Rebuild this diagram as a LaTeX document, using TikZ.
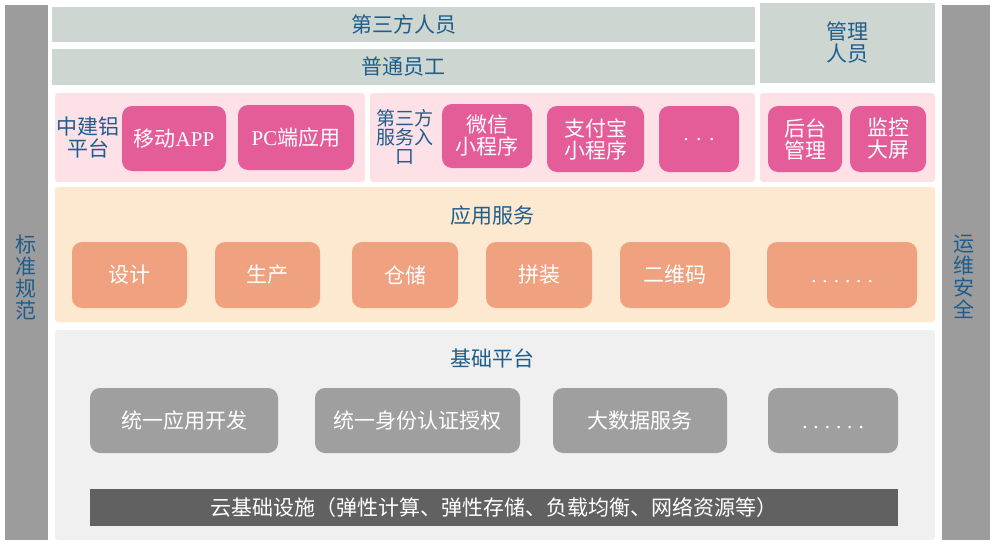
\documentclass[tikz,border=0pt]{standalone}
\usepackage{fontspec}
\setmainfont{Liberation Serif}
\newfontfamily\cjk{Noto Sans CJK SC}
\definecolor{sidegray}{HTML}{9C9C9C}
\definecolor{rowgray}{HTML}{CDD6D0}
\definecolor{pinkbg}{HTML}{FDE1E7}
\definecolor{pinkbox}{HTML}{E45D98}
\definecolor{orangebg}{HTML}{FDE9D0}
\definecolor{orangebox}{HTML}{F0A17F}
\definecolor{graybg}{HTML}{F0F0F0}
\definecolor{graybox}{HTML}{9F9F9F}
\definecolor{darkbar}{HTML}{616161}
\definecolor{titleblue}{HTML}{1E5D8C}
\newcommand\moredots{\vphantom{设}{\rmfamily .\hspace{6pt}.\hspace{6pt}.\hspace{6pt}.\hspace{6pt}.\hspace{6pt}.}}
\begin{document}
\begin{tikzpicture}[x=1pt,y=-1pt,
    panel/.style={rounded corners=3pt, inner sep=0pt},
    usergroup/.style={fill=rowgray, inner sep=0pt, text=titleblue,
        font=\cjk\fontsize{21}{22}\selectfont, align=center},
    appbox/.style={rounded corners=10pt, inner sep=0pt, text=white,
        font=\cjk\fontsize{21}{22}\selectfont, align=center},
    title/.style={text=titleblue, font=\cjk\fontsize{21}{22}\selectfont, align=center}]
    \useasboundingbox[fill=white] (0,0) rectangle (992,543);
    % side columns
    \node[fill=sidegray, minimum width=43pt, minimum height=535pt, inner sep=0pt] (spec) at (26.5,272.5) {};
    \node[title] (specText) at (26,277) {标\\准\\规\\范};
    \node[fill=sidegray, minimum width=48pt, minimum height=535pt, inner sep=0pt] (ops) at (966,272.5) {};
    \node[title] (opsText) at (964,277) {运\\维\\安\\全};
    % users
    \node[usergroup, minimum width=703pt, minimum height=35pt] (third) at (403.5,24.5) {第三方人员};
    \node[usergroup, minimum width=703pt, minimum height=36pt] (staff) at (403.5,67) {普通员工};
    \node[usergroup, minimum width=175pt, minimum height=80pt] (admin) at (847.5,43) {管理\\人员};
    % access layer
    \node[panel, fill=pinkbg, minimum width=310pt, minimum height=89pt] (zjl) at (210,137.5) {};
    \node[panel, fill=pinkbg, minimum width=385pt, minimum height=89pt] (partner) at (562.5,137.5) {};
    \node[panel, fill=pinkbg, minimum width=175pt, minimum height=89pt] (backend) at (847.5,137.5) {};
    \node[title] (zjlText) at (88,138) {中建铝\\平台};
    \node[title, font=\cjk\fontsize{19}{19}\selectfont] (partnerText) at (405,137) {第三方\\服务入\\口};
    \node[appbox, fill=pinkbox, minimum width=104pt, minimum height=65pt] (mobile) at (174,138.5) {移动{\rmfamily APP}};
    \node[appbox, fill=pinkbox, minimum width=116pt, minimum height=65pt] (pc) at (296,137.5) {{\rmfamily PC}端应用};
    \node[appbox, fill=pinkbox, minimum width=90pt, minimum height=64pt] (wechat) at (487,136) {微信\\小程序};
    \node[appbox, fill=pinkbox, minimum width=97pt, minimum height=66pt] (alipay) at (595.5,139) {支付宝\\小程序};
    \node[appbox, fill=pinkbox, minimum width=80pt, minimum height=66pt] (moreApp) at (699,139) {\vphantom{设}{\rmfamily ·\hspace{6pt}·\hspace{6pt}·}};
    \node[appbox, fill=pinkbox, minimum width=74pt, minimum height=66pt] (console) at (805,139) {后台\\管理};
    \node[appbox, fill=pinkbox, minimum width=76pt, minimum height=66pt] (screen) at (888,139) {监控\\大屏};
    % application services
    \node[panel, fill=orangebg, minimum width=880pt, minimum height=135pt] (service) at (495,254.5) {};
    \node[title] (serviceText) at (492,216) {应用服务};
    \node[appbox, fill=orangebox, minimum width=115pt, minimum height=66pt] (design) at (129.5,275) {设计};
    \node[appbox, fill=orangebox, minimum width=105pt, minimum height=66pt] (produce) at (267.5,275) {生产};
    \node[appbox, fill=orangebox, minimum width=106pt, minimum height=66pt] (store) at (405,275) {仓储};
    \node[appbox, fill=orangebox, minimum width=106pt, minimum height=66pt] (assemble) at (539,275) {拼装};
    \node[appbox, fill=orangebox, minimum width=110pt, minimum height=66pt] (qrcode) at (675,275) {二维码};
    \node[appbox, fill=orangebox, minimum width=150pt, minimum height=66pt] (moreService) at (842,275) {\moredots};
    % base platform
    \node[panel, fill=graybg, minimum width=880pt, minimum height=210pt] (base) at (495,435) {};
    \node[title] (baseText) at (492,358) {基础平台};
    \node[appbox, fill=graybox, minimum width=188pt, minimum height=65pt] (devkit) at (184,420.5) {统一应用开发};
    \node[appbox, fill=graybox, minimum width=205pt, minimum height=65pt] (auth) at (417.5,420.5) {统一身份认证授权};
    \node[appbox, fill=graybox, minimum width=174pt, minimum height=65pt] (bigdata) at (640,420.5) {大数据服务};
    \node[appbox, fill=graybox, minimum width=130pt, minimum height=65pt] (moreBase) at (833,420.5) {\moredots};
    \node[fill=darkbar, minimum width=808pt, minimum height=37pt, inner sep=0pt, text=white,
        font=\cjk\fontsize{21}{22}\selectfont] (cloud) at (494,507.5) {云基础设施（弹性计算、弹性存储、负载均衡、网络资源等）};
\end{tikzpicture}
\end{document}
